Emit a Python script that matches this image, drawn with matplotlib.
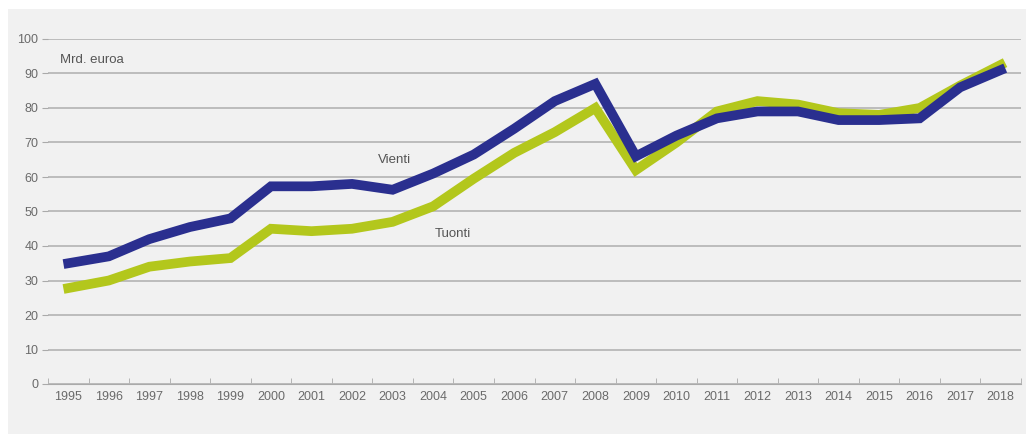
import matplotlib.pyplot as plt
from matplotlib.patches import Rectangle
from matplotlib.ticker import FixedLocator, NullFormatter

plt.rcParams['font.family'] = ['Liberation Sans', 'DejaVu Sans']

# Data (billion euros)
years = list(range(1995, 2019))
vienti = [35, 37, 42, 45.5, 48, 57.3, 57.3, 58, 56.3, 61, 66.5, 74, 82, 87,
          66, 72, 77, 79, 79, 76.5, 76.5, 77, 86, 91]
tuonti = [27.8, 30, 34, 35.5, 36.5, 45, 44.3, 45, 47, 51.5, 59.5, 67, 73, 80,
          62, 70, 79, 82, 81, 78.5, 78, 80, 86.5, 92.5]

fig = plt.figure(figsize=(10.26, 4.34), dpi=100)
fig.patch.set_facecolor('white')
fig.add_artist(Rectangle((8 / 1026, 0), 1018 / 1026, 425 / 434,
                         transform=fig.transFigure, facecolor='#f1f1f1',
                         edgecolor='none', zorder=-10))

ax = fig.add_axes([48 / 1026, 50 / 434, 973 / 1026, 345 / 434])
ax.set_facecolor('none')

x = list(range(len(years)))
ax.plot(x, tuonti, color='#b3c71c', lw=7, solid_joinstyle='miter', zorder=3)
ax.plot(x, vienti, color='#2a2f8f', lw=7, solid_joinstyle='miter', zorder=4)

ax.set_xlim(-0.5, len(years) - 0.5)
ax.set_ylim(0, 100)
ax.set_yticks(range(0, 101, 10))
ax.yaxis.grid(True, color='#b8b8b8', lw=1.3)
ax.set_axisbelow(True)

ax.set_xticks(x)
ax.set_xticklabels([str(y) for y in years])
ax.xaxis.set_minor_locator(FixedLocator([i - 0.5 for i in range(len(years) + 1)]))
ax.xaxis.set_minor_formatter(NullFormatter())
ax.tick_params(axis='x', which='major', length=0, pad=5, labelsize=9, labelcolor='#6a6a6a')
ax.tick_params(axis='x', which='minor', length=4, color='#aaaaaa', direction='in')
ax.tick_params(axis='y', length=4, color='#aaaaaa', labelsize=9, labelcolor='#6a6a6a', pad=3)

for s in ['top', 'right', 'left']:
    ax.spines[s].set_visible(False)
ax.spines['bottom'].set_color('#aaaaaa')

ax.text(-0.2, 94, 'Mrd. euroa', fontsize=9.5, color='#555555', va='center')
ax.text(7.65, 65, 'Vienti', fontsize=9.5, color='#555555', va='center')
ax.text(9.05, 43.5, 'Tuonti', fontsize=9.5, color='#555555', va='center')

fig.savefig('out.png', dpi=100)
